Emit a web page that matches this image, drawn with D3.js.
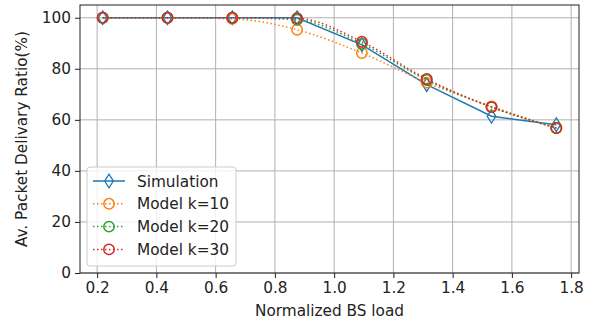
<!DOCTYPE html>
<html>
<head>
<meta charset="utf-8">
<script src="https://cdn.jsdelivr.net/npm/d3@7"></script>
<style>
	body { margin: 0; background: #fff; }
	svg text { font-family: "DejaVu Sans", sans-serif; fill: #222; }
</style>
</head>
<body>
<svg id="chart" width="598" height="326"></svg>
<script>

// normalized BS load (x) and delivery ratio (%) per series
const bs_load = [0.21875, 0.4375, 0.65625, 0.875, 1.09375, 1.3125, 1.53125, 1.75]
const simulation = [100, 100, 100, 100, 89.4, 73.8, 61.4, 58.1]
const model_k10 = [100, 100, 99.6, 95.3, 86.2, 74.6, 65.3, 56.8]
const model_k20 = [100, 100, 100, 99.2, 89.8, 75.6, 65.0, 56.8]
const model_k30 = [100, 100, 100, 99.8, 90.6, 76.0, 65.0, 56.8]

const x_ticks = [0.2, 0.4, 0.6, 0.8, 1.0, 1.2, 1.4, 1.6, 1.8]
const y_ticks = [0, 20, 40, 60, 80, 100]
const series_names = ["Simulation", "Model k=10", "Model k=20", "Model k=30"]
const series_colors = ["#1f77b4", "#ff7f0e", "#2ca02c", "#d62728"]

const plot_left = 80, plot_right = 579, plot_top = 5, plot_bottom = 273
const font_size = "15.3px"

const svg = d3.select("#chart")

let pad = (bs_load[bs_load.length-1] - bs_load[0]) * 0.05
const x = d3.scaleLinear()
	.domain([bs_load[0] - pad, bs_load[bs_load.length-1] + pad])
	.range([plot_left, plot_right])
const y = d3.scaleLinear().domain([0, 105]).range([plot_bottom, plot_top])

// grid
let grid = svg.append("g").classed("grid", true)
grid.selectAll("line.vgrid").data(x_ticks).enter().append("line")
	.attr("x1", (d) => x(d)).attr("x2", (d) => x(d))
	.attr("y1", plot_top).attr("y2", plot_bottom)
	.attr("stroke", "#b0b0b0").attr("stroke-width", 1)
grid.selectAll("line.hgrid").data(y_ticks).enter().append("line")
	.attr("y1", (d) => y(d)).attr("y2", (d) => y(d))
	.attr("x1", plot_left).attr("x2", plot_right)
	.attr("stroke", "#b0b0b0").attr("stroke-width", 1)

// axes
let x_axis = svg.append("g")
	.attr("transform", "translate(0," + plot_bottom + ")")
	.call(d3.axisBottom(x).tickValues(x_ticks).tickFormat(d3.format(".1f")).tickSize(5).tickPadding(4).tickSizeOuter(0))
let y_axis = svg.append("g")
	.attr("transform", "translate(" + plot_left + ",0)")
	.call(d3.axisLeft(y).tickValues(y_ticks).tickSize(5).tickPadding(4).tickSizeOuter(0))

for (let ax of [x_axis, y_axis]) {
	ax.select(".domain").remove()
	ax.selectAll("line").attr("stroke", "#222")
	ax.selectAll("text").style("font-size", font_size).attr("fill", "#222")
}

// frame
svg.append("rect")
	.attr("x", plot_left).attr("y", plot_top)
	.attr("width", plot_right-plot_left).attr("height", plot_bottom-plot_top)
	.attr("fill", "none").attr("stroke", "#222").attr("stroke-width", 1)

// labels
svg.append("text")
	.attr("x", (plot_left+plot_right)/2).attr("y", 316)
	.attr("text-anchor", "middle")
	.style("font-size", font_size)
	.text("Normalized BS load")

svg.append("text")
	.attr("transform", "translate(27," + (plot_top+plot_bottom)/2 + ") rotate(-90)")
	.attr("text-anchor", "middle")
	.style("font-size", font_size)
	.text("Av. Packet Delivary Ratio(%)")

// markers
function diamond(sel, cx, cy, color) {
	let w = 4.3, h = 6.8
	sel.append("path")
		.attr("d", "M" + cx + "," + (cy-h) + "L" + (cx+w) + "," + cy + "L" + cx + "," + (cy+h) + "L" + (cx-w) + "," + cy + "Z")
		.attr("fill", "none").attr("stroke", color).attr("stroke-width", 1.3)
}
function circle(sel, cx, cy, color) {
	sel.append("circle")
		.attr("cx", cx).attr("cy", cy).attr("r", 5.2)
		.attr("fill", "none").attr("stroke", color).attr("stroke-width", 1.5)
}

let all_series = [simulation, model_k10, model_k20, model_k30]
let plot = svg.append("g").classed("plot", true)

all_series.forEach((values, i) => {
	let pts = bs_load.map((d, j) => [d, values[j]])
	let line = d3.line()
		.x((d) => x(d[0])).y((d) => y(d[1]))
		.curve(i == 0 ? d3.curveLinear : d3.curveMonotoneX)
	plot.append("path")
		.datum(pts)
		.attr("d", line)
		.attr("fill", "none")
		.attr("stroke", series_colors[i])
		.attr("stroke-width", 1.5)
		.attr("stroke-dasharray", i == 0 ? null : "1.5,2.5")
	pts.forEach((p) => {
		if (i == 0) diamond(plot, x(p[0]), y(p[1]), series_colors[i])
		else circle(plot, x(p[0]), y(p[1]), series_colors[i])
	})
})

// legend
let legend = svg.append("g").classed("legend", true)
legend.append("rect")
	.attr("x", 87).attr("y", 167).attr("width", 149).attr("height", 99).attr("rx", 3)
	.attr("fill", "white").attr("fill-opacity", 0.8)
	.attr("stroke", "#cccccc").attr("stroke-width", 1)

series_names.forEach((name, i) => {
	let ly = 181 + i*22.8
	legend.append("line")
		.attr("x1", 93).attr("x2", 125).attr("y1", ly).attr("y2", ly)
		.attr("stroke", series_colors[i]).attr("stroke-width", 1.5)
		.attr("stroke-dasharray", i == 0 ? null : "1.5,2.5")
	if (i == 0) diamond(legend, 109, ly, series_colors[i])
	else circle(legend, 109, ly, series_colors[i])
	legend.append("text")
		.attr("x", 137).attr("y", ly + 5.5)
		.style("font-size", font_size)
		.text(name)
})

</script>
</body>
</html>
